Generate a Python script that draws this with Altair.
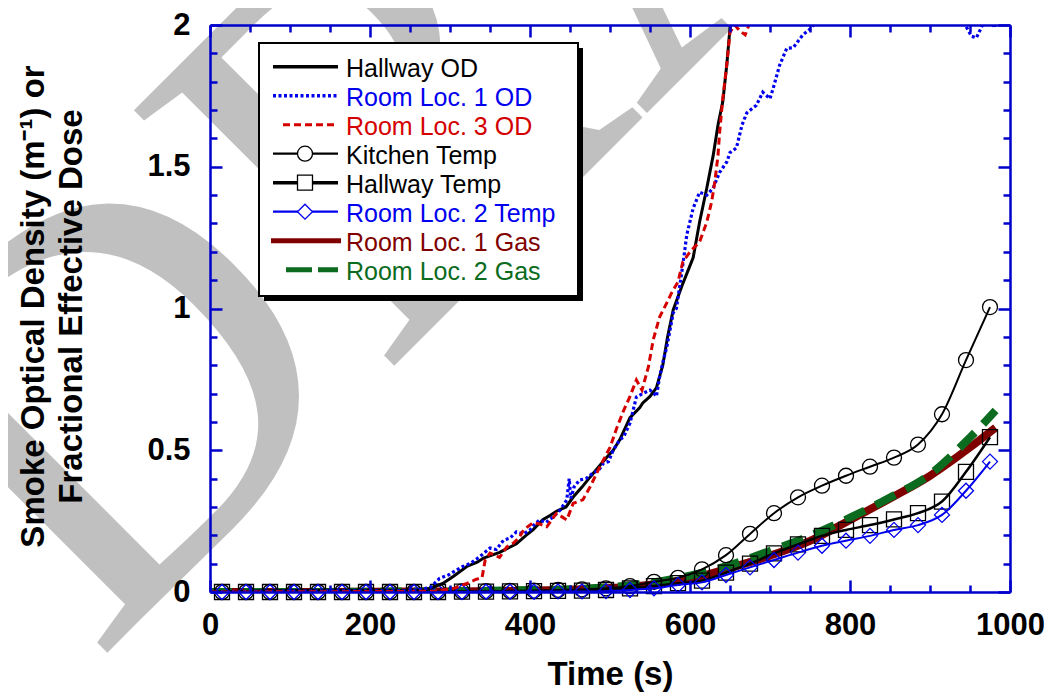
import altair as alt
import pandas as pd

# ---------------- data ----------------
hall_od_t = [0, 50, 100, 150, 200, 250, 270, 280, 291, 304, 321, 334, 342, 362, 383, 395, 404, 416,
             425, 433, 445, 454, 465, 475, 487, 496, 504, 512, 525, 537, 541, 550, 558, 566, 572, 579,
             590, 597, 604, 612, 621, 629, 635, 641, 646, 650, 654]
hall_od_v = [0, 0.003, 0.005, 0.006, 0.006, 0.005, 0.008, 0.018, 0.03, 0.055, 0.09, 0.105, 0.12, 0.14,
             0.17, 0.2, 0.22, 0.255, 0.27, 0.285, 0.3, 0.335, 0.37, 0.405, 0.445, 0.475, 0.5, 0.536,
             0.615, 0.65, 0.667, 0.69, 0.72, 0.8, 0.9, 0.995, 1.08, 1.13, 1.18, 1.305, 1.425, 1.54,
             1.647, 1.73, 1.86, 1.99, 2.08]

loc1_od_t = [0, 50, 100, 150, 200, 250, 275, 287, 298, 308, 316, 325, 337, 350, 358, 367, 375, 383,
             392, 400, 406, 412, 420, 429, 438, 446, 449, 451, 455, 462, 470, 479, 486, 492, 498, 504,
             512, 517, 525, 533, 541, 550, 555, 558, 562, 566, 571, 579, 583, 591, 596, 604, 612, 621,
             629, 637, 646, 650, 658, 665, 671, 683, 691, 700, 704, 712, 721, 729, 741, 752, 760, 800,
             850, 900, 940, 946, 952, 958, 964, 970, 976, 980, 985, 1000]
loc1_od_v = [0, 0.002, 0.003, 0.004, 0.004, 0.004, 0.015, 0.048, 0.06, 0.077, 0.09, 0.1, 0.124, 0.155,
             0.15, 0.183, 0.19, 0.212, 0.205, 0.219, 0.24, 0.254, 0.245, 0.265, 0.29, 0.325, 0.4, 0.33,
             0.37, 0.395, 0.4, 0.42, 0.43, 0.455, 0.46, 0.5, 0.536, 0.547, 0.596, 0.688, 0.7, 0.712,
             0.7, 0.69, 0.758, 0.81, 0.864, 0.984, 1.0, 1.153, 1.26, 1.354, 1.41, 1.4, 1.425, 1.48,
             1.517, 1.55, 1.566, 1.647, 1.69, 1.717, 1.763, 1.74, 1.777, 1.858, 1.918, 1.92, 1.965,
             1.99, 2.03, 2.08, 2.1, 2.1, 2.03, 1.99, 1.96, 1.955, 1.99, 2.03, 2.02, 1.99, 2.03, 2.05]

loc3_od_t = [0, 50, 100, 150, 200, 250, 280, 304, 321, 333, 340, 344, 350, 356, 362, 371, 379, 387,
             392, 404, 412, 421, 433, 440, 446, 454, 466, 475, 487, 500, 508, 517, 525, 533, 540, 548,
             554, 562, 571, 577, 585, 591, 600, 612, 621, 627, 631, 635, 637, 641, 646, 650, 656, 662,
             669, 675, 680]
loc3_od_v = [0, 0, 0.001, 0.001, 0.002, 0.002, 0.003, 0.012, 0.03, 0.045, 0.05, 0.113, 0.137, 0.13,
             0.122, 0.159, 0.172, 0.194, 0.219, 0.245, 0.24, 0.23, 0.277, 0.265, 0.254, 0.313, 0.325,
             0.37, 0.44, 0.51, 0.575, 0.64, 0.69, 0.748, 0.712, 0.794, 0.889, 0.97, 1.02, 1.055, 1.094,
             1.164, 1.2, 1.235, 1.305, 1.376, 1.446, 1.54, 1.62, 1.742, 1.86, 1.975, 2.0, 1.98, 1.965,
             2.01, 2.05]

temp_t = [15, 45, 75, 105, 135, 165, 195, 225, 255, 285, 315, 345, 375, 405, 435, 465, 495, 525,
          555, 585, 615, 645, 675, 705, 735, 765, 795, 825, 855, 885, 915, 945, 975]
kitchen_v = [0, 0, 0, 0, 0, 0, 0, 0, 0, 0.001, 0.002, 0.003, 0.004, 0.005, 0.007, 0.009, 0.013,
             0.021, 0.036, 0.05, 0.08, 0.13, 0.205, 0.278, 0.334, 0.375, 0.41, 0.442, 0.474, 0.52,
             0.627, 0.818, 1.005]
hall_temp_v = [0, 0, 0, 0, 0, 0, 0, 0, 0, 0.0, 0.001, 0.001, 0.002, 0.003, 0.004, 0.005, 0.007,
               0.013, 0.021, 0.031, 0.04, 0.068, 0.1, 0.136, 0.168, 0.198, 0.219, 0.236, 0.256, 0.278,
               0.319, 0.424, 0.546]
room2_temp_v = [0, 0, 0, 0, 0, 0, 0, 0, 0, 0, 0, 0.001, 0.001, 0.001, 0.002, 0.002, 0.003, 0.007,
                0.013, 0.025, 0.034, 0.06, 0.087, 0.113, 0.139, 0.163, 0.181, 0.198, 0.219, 0.236,
                0.272, 0.357, 0.46]

gas_t = [0, 100, 200, 300, 350, 400, 450, 500, 550, 600, 650, 700, 750, 800, 850, 900, 950, 982]
gas1_v = [0, 0, 0.001, 0.002, 0.003, 0.005, 0.008, 0.014, 0.026, 0.046, 0.085, 0.128, 0.18, 0.254,
          0.33, 0.41, 0.51, 0.58]
gas2_v = [0, 0, 0.001, 0.003, 0.004, 0.007, 0.01, 0.017, 0.032, 0.058, 0.095, 0.145, 0.198, 0.262,
          0.333, 0.415, 0.545, 0.64]

x_label_values = [0, 200, 400, 600, 800, 1000]
y_label_values = [0, 0.5, 1, 1.5, 2]
x_tick_values = [0, 50, 100, 150, 200, 250, 300, 350, 400, 450, 500, 550, 600, 650, 700, 750, 800,
                 850, 900, 950, 1000]
y_tick_values = [0, 0.1, 0.2, 0.3, 0.4, 0.5, 0.6, 0.7, 0.8, 0.9, 1.0, 1.1, 1.2, 1.3, 1.4, 1.5, 1.6,
                 1.7, 1.8, 1.9, 2.0]

names = ["Hallway OD", "Room Loc. 1 OD", "Room Loc. 3 OD", "Kitchen Temp", "Hallway Temp",
         "Room Loc. 2 Temp", "Room Loc. 1 Gas", "Room Loc. 2 Gas"]
watermark = "DRAFT"

# ---------------- styles ----------------
BLACK, BLUE, RED, DRED, GREEN = "#000000", "#0000EE", "#D40000", "#800000", "#0B6B1E"
AXIS_BLUE = "#0000CC"
FONT = "Liberation Sans"
W, H = 800, 567

colors = [BLACK, BLUE, RED, BLACK, BLACK, BLUE, DRED, GREEN]
plot_widths = [3, 3.2, 3, 2, 2.5, 2, 8, 8]
plot_dashes = [None, [3, 2.5], [7, 4], None, None, None, None, [22, 12]]
leg_widths = [3.5, 3.5, 3, 2.2, 3.5, 2.2, 5, 5]
leg_dashes = [None, [3, 2.5], [7, 4], None, None, None, None, [26, 6]]
leg_x0 = [63, 63, 73, 63, 63, 63, 61, 76]
leg_x1 = [128, 128, 124, 128, 128, 128, 131, 128]
markers = [None, None, None, "circle", "square", "diamond", None, None]

xs = alt.Scale(domain=[0, 1000], nice=False, zero=False)
ys = alt.Scale(domain=[0, 2], nice=False, zero=False)

x_tick_size = {"condition": {"test": "datum.value % 200 === 0", "value": 12}, "value": 7}
y_tick_size = {"condition": {"test": "abs(datum.value * 2 - round(datum.value * 2)) < 0.001",
                             "value": 12}, "value": 7}

tick_common = dict(labels=False, grid=False, title=None, ticks=True, tickColor=AXIS_BLUE,
                   tickWidth=2.5, domainColor=AXIS_BLUE, domainWidth=2.5, zindex=1)

x_label_axis = alt.Axis(orient="bottom", values=x_label_values, format="d", ticks=False, tickSize=0,
                        domain=True, domainColor=AXIS_BLUE, domainWidth=2.5, grid=False,
                        labelFont=FONT, labelFontSize=31, labelFontWeight="bold", labelColor="black",
                        labelPadding=18, labelFlush=False, labelOverlap=False,
                        title="Time (s)", titleFont=FONT, titleFontSize=33, titleFontWeight="bold",
                        titleColor="black", titleX=W / 2, titleY=92, titleBaseline="alphabetic",
                        titleAlign="center", zindex=1)
y_label_axis = alt.Axis(orient="left", values=y_label_values, format="~g", ticks=False, tickSize=0,
                        domain=True, domainColor=AXIS_BLUE, domainWidth=2.5, grid=False,
                        labelFont=FONT, labelFontSize=31, labelFontWeight="bold", labelColor="black",
                        labelPadding=20, labelFlush=False, labelOverlap=False,
                        title=["Smoke Optical Density (m\u207b\u00b9) or", "Fractional Effective Dose"],
                        titleFont=FONT, titleFontSize=33, titleFontWeight="bold", titleColor="black",
                        titleX=-167, titleY=281, titleAngle=270, titleBaseline="alphabetic",
                        titleAlign="center", titleLineHeight=38, zindex=1)
x_bottom_ticks = alt.Axis(orient="top", offset=-H, values=x_tick_values, tickSize=x_tick_size,
                          domain=False, **tick_common)
x_top_ticks = alt.Axis(orient="bottom", offset=-H, values=x_tick_values, tickSize=x_tick_size,
                       domain=True, **tick_common)
y_left_ticks = alt.Axis(orient="right", offset=-W, values=y_tick_values, tickSize=y_tick_size,
                        domain=False, **tick_common)
y_right_ticks = alt.Axis(orient="left", offset=-W, values=y_tick_values, tickSize=y_tick_size,
                         domain=True, **tick_common)

corner_df = pd.DataFrame({"t": [0, 1000], "v": [0, 2]})
one = pd.DataFrame({"k": [0]})


def carrier(xaxis, yaxis):
    return alt.Chart(corner_df).mark_point(opacity=0).encode(
        x=alt.X("t:Q", scale=xs, axis=xaxis), y=alt.Y("v:Q", scale=ys, axis=yaxis))


def enc(ch):
    return ch.encode(x=alt.X("t:Q", scale=xs, axis=None), y=alt.Y("v:Q", scale=ys, axis=None))


def line_layer(t, v, idx, interp="linear"):
    kw = dict(color=colors[idx], strokeWidth=plot_widths[idx], clip=True, interpolate=interp)
    if plot_dashes[idx]:
        kw["strokeDash"] = plot_dashes[idx]
    return enc(alt.Chart(pd.DataFrame({"t": t, "v": v})).mark_line(**kw))


def point_layer(t, v, idx):
    return enc(alt.Chart(pd.DataFrame({"t": t, "v": v})).mark_point(
        shape=markers[idx], filled=False, size=225, color=colors[idx], strokeWidth=1.3, opacity=1))


# background watermark (large rotated grey serif text)
wm = alt.Chart(one).mark_text(
    text=watermark, font="Liberation Serif", fontSize=557, color="#C0C0C0", angle=315,
    align="left", baseline="alphabetic").encode(x=alt.value(-114), y=alt.value(639))

layers = [
    wm,
    carrier(x_label_axis, y_label_axis),
    carrier(x_bottom_ticks, y_left_ticks),
    carrier(x_top_ticks, y_right_ticks),
    line_layer(gas_t, gas1_v, 6, "monotone"),
    line_layer(gas_t, gas2_v, 7, "monotone"),
    line_layer(temp_t, kitchen_v, 3, "monotone"),
    point_layer(temp_t, kitchen_v, 3),
    line_layer(temp_t, hall_temp_v, 4, "monotone"),
    point_layer(temp_t, hall_temp_v, 4),
    line_layer(temp_t, room2_temp_v, 5, "monotone"),
    point_layer(temp_t, room2_temp_v, 5),
    line_layer(hall_od_t, hall_od_v, 0),
    line_layer(loc1_od_t, loc1_od_v, 1),
    line_layer(loc3_od_t, loc3_od_v, 2),
]

# ---------------- legend (inset box) ----------------
BOX_X0, BOX_X1, BOX_Y0, BOX_Y1, SHADOW = 49, 368, 18, 271, 5
ROW_Y0, ROW_DY, MARK_X, TEXT_X = 41.7, 29.0, 95, 136

layers.append(alt.Chart(one).mark_rect(color="black").encode(
    x=alt.value(BOX_X0 + SHADOW), x2=alt.value(BOX_X1 + SHADOW),
    y=alt.value(BOX_Y0 + SHADOW), y2=alt.value(BOX_Y1 + SHADOW)))
layers.append(alt.Chart(one).mark_rect(fill="white", stroke="black", strokeWidth=2).encode(
    x=alt.value(BOX_X0), x2=alt.value(BOX_X1), y=alt.value(BOX_Y0), y2=alt.value(BOX_Y1)))

for i, name in enumerate(names):
    yv = ROW_Y0 + ROW_DY * i
    kw = dict(color=colors[i], strokeWidth=leg_widths[i])
    if leg_dashes[i]:
        kw["strokeDash"] = leg_dashes[i]
    layers.append(alt.Chart(one).mark_rule(**kw).encode(
        x=alt.value(leg_x0[i]), x2=alt.value(leg_x1[i]), y=alt.value(yv)))
    if markers[i]:
        layers.append(alt.Chart(one).mark_point(
            shape=markers[i], filled=True, fill="white", stroke=colors[i], strokeWidth=1.3,
            size=225, opacity=1).encode(x=alt.value(MARK_X), y=alt.value(yv)))
    layers.append(alt.Chart(one).mark_text(
        text=name, align="left", baseline="alphabetic", font=FONT, fontSize=25,
        color=colors[i]).encode(x=alt.value(TEXT_X), y=alt.value(yv + 10.5)))

chart = alt.layer(*layers).resolve_axis(x="independent", y="independent").properties(
    width=W, height=H,
    padding={"left": 202, "top": 17, "right": 34, "bottom": 100},
    autosize=alt.AutoSizeParams(type="none"),
    background="white",
).configure_view(stroke=None)

chart.save("out.html", embed_options={"renderer": "svg", "actions": False})
